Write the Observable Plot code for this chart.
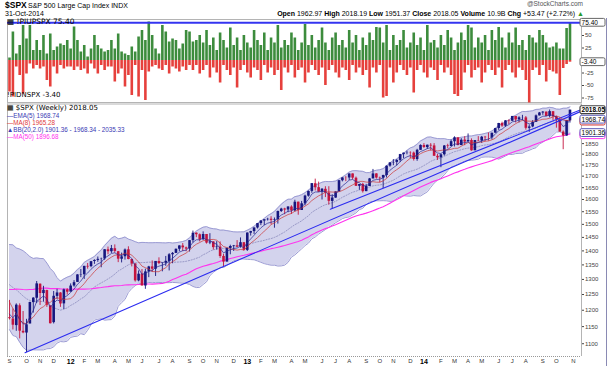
<!DOCTYPE html>
<html><head><meta charset="utf-8">
<script src="https://cdn.jsdelivr.net/npm/d3@7"></script>
<script src="https://cdn.jsdelivr.net/npm/@observablehq/plot@0.6"></script>
<style>
body{margin:0;background:#fff;}
#wrap{position:relative;width:610px;height:366px;overflow:hidden;background:#fff;font-family:"Liberation Sans",Arial,sans-serif;color:#000}
.t{position:absolute;white-space:nowrap;line-height:1}
.p{position:absolute;left:0}
</style></head><body><div id="wrap">
<div class="t" style="left:5px;top:1px;font-size:8.5px;font-weight:bold">$SPX</div>
<div class="t" style="left:28px;top:2px;font-size:7px">S&amp;P 500 Large Cap Index INDX</div>
<div class="t" style="left:5px;top:10px;font-size:7px">31-Oct-2014</div>
<div class="t" style="right:27px;top:1px;font-size:6.5px;color:#555">@StockCharts.com</div>
<div class="t" style="right:26px;top:10px;font-size:7px"><b>Open</b> 1962.97 <b>High</b> 2018.19 <b>Low</b> 1951.37 <b>Close</b> 2018.05 <b>Volume</b> 10.9B <b>Chg</b> +53.47 (+2.72%) <span style="color:#2a9a2a">&#9650;</span></div>
<div id="top" class="p" style="top:18px"></div>
<div id="main" class="p" style="top:101px"></div>
<div class="t" style="left:7px;top:18px;font-size:7.5px;font-family:'DejaVu Sans'">&#9638; !PIUPSPX 75.40</div>
<div class="t" style="left:7px;top:92px;font-size:7px;font-family:'DejaVu Sans'">!PIDNSPX -3.40</div>
<div class="t" style="left:7px;top:105px;font-size:7px;font-family:'DejaVu Sans'">&#9638; $SPX (Weekly) 2018.05</div>
<div class="t" style="left:7px;top:113px;font-size:6.3px;color:#3a3ab4">&#8212;EMA(5) 1968.74</div>
<div class="t" style="left:7px;top:120px;font-size:6.3px;color:#e03a3a">&#8212;MA(8) 1965.28</div>
<div class="t" style="left:7px;top:127px;font-size:6.3px;color:#3a3ab4">&#9650;BB(20,2.0) 1901.36 - 1968.34 - 2035.33</div>
<div class="t" style="left:7px;top:134px;font-size:6.3px;color:#ff33ee">&#8212;MA(50) 1896.68</div>
<div style="position:absolute;left:606px;top:18px;width:1px;height:348px;background:#8a8ab4"></div>
</div>
<script>
// weekly closes before the visible window (for the moving averages)
const preCloses = [1104.51,1109.55,1125.59,1148.67,1146.24,1165.15,1176.19,1183.08,1183.26,1225.85,1199.21,1199.73,1189.40,1224.71,1240.40,1243.91,1256.77,1257.64,1271.50,1293.24,1283.35,1276.34,1310.87,1329.15,1343.01,1319.88,1321.15,1304.28,1279.20,1313.80,1332.41,1328.17,1319.68,1337.38,1363.61,1340.20,1337.77,1333.27,1331.10,1300.16,1270.98,1271.50,1268.45,1339.67,1343.80,1316.14,1345.02,1292.28,1199.38,1178.81,1123.53,1176.80];

const open = [1177,1173,1153,1214,1136,1131,1158,1224,1238,1284,1253,1263,1213,1162,1244,1255,1220,1265,
1258,1278,1290,1315,1316,1345,1344,1362,1366,1370,1371,1404,1397,1408,1397,1370,1379,1404,1369,1353,1295,1318,1278,1326,1343,1335,1362,1355,1356,1362,1386,1391,1406,1418,1411,1407,1438,1466,1460,1441,1461,1429,1433,1412,1414,1380,1360,1409,1416,1418,1414,1430,
1402,1466,1472,1486,1503,1513,1518,1520,1516,1518,1551,1561,1557,1569,1553,1589,1555,1582,1614,1634,1667,1650,1631,1643,1627,1592,1606,1632,1680,1692,1692,1710,1691,1656,1664,1633,1655,1688,1710,1692,1691,1703,1745,1760,1762,1771,1798,1805,1806,1805,1775,1818,
1841,1831,1842,1839,1790,1783,1797,1839,1836,1859,1878,1841,1867,1858,1865,1816,1865,1863,1881,1878,1878,1901,1924,1949,1936,1963,1961,1985,1968,1978,1978,1925,1932,1955,1988,2003,2008,1986,2010,1983,1968,1906,1887,1962.97];
const high = [1231,1204,1220,1220,1196,1172,1225,1240,1293,1285,1277,1264,1215,1260,1267,1256,1268,1269,
1285,1296,1316,1334,1345,1355,1362,1368,1378,1374,1405,1414,1420,1422,1398,1392,1407,1415,1370,1354,1329,1334,1335,1345,1364,1362,1375,1357,1380,1390,1394,1407,1419,1427,1414,1438,1474,1467,1463,1471,1461,1464,1434,1434,1433,1388,1409,1421,1420,1438,1448,1431,
1467,1473,1486,1503,1514,1518,1524,1530,1525,1552,1564,1564,1570,1574,1597,1589,1592,1618,1636,1667,1687,1674,1646,1654,1654,1620,1632,1680,1693,1698,1710,1710,1696,1664,1669,1664,1690,1730,1711,1696,1704,1746,1760,1775,1775,1799,1805,1814,1811,1810,1823,1844,
1850,1843,1850,1850,1799,1798,1841,1847,1867,1883,1878,1874,1884,1897,1873,1865,1884,1885,1885,1902,1901,1925,1950,1956,1964,1968,1985,1985,1984,1991,1985,1942,1964,1993,2006,2011,2008,2019,2010,1986,1978,1912,1965,2018.19];
const low = [1170,1140,1136,1114,1129,1075,1158,1191,1221,1215,1226,1209,1158,1158,1234,1209,1202,1248,
1258,1274,1290,1306,1300,1335,1340,1352,1359,1340,1366,1386,1391,1392,1358,1357,1367,1368,1343,1291,1292,1278,1267,1306,1324,1310,1351,1326,1345,1329,1354,1391,1397,1398,1397,1396,1429,1449,1433,1439,1425,1423,1403,1403,1373,1343,1360,1386,1398,1412,1410,1399,
1398,1455,1461,1482,1495,1495,1513,1498,1485,1501,1547,1538,1546,1539,1549,1536,1555,1574,1610,1626,1636,1630,1598,1608,1577,1560,1605,1632,1675,1676,1681,1684,1655,1639,1627,1633,1655,1688,1687,1671,1646,1692,1740,1747,1746,1761,1780,1797,1779,1768,1767,1818,
1827,1823,1815,1790,1771,1738,1791,1825,1836,1834,1839,1840,1840,1858,1814,1816,1859,1851,1859,1862,1868,1901,1915,1930,1930,1944,1959,1952,1952,1963,1916,1905,1928,1955,1988,1991,1985,1978,1965,1926,1906,1821,1886,1951.37];
const close = [1173.97,1154.23,1216.01,1136.43,1131.42,1155.46,1224.58,1238.25,1285.09,1253.23,1263.85,1215.65,1158.67,1244.28,1255.19,1219.66,1265.33,1257.60,
1277.81,1289.09,1315.38,1316.33,1344.90,1342.64,1361.23,1365.74,1369.63,1370.87,1404.17,1397.11,1408.47,1398.08,1370.26,1378.53,1403.36,1369.10,1353.39,1295.22,1317.82,1278.04,1325.66,1342.84,1335.02,1362.16,1354.68,1356.78,1362.66,1385.97,1390.99,1405.87,1418.16,1411.13,1406.58,1437.92,1465.77,1460.15,1440.67,1460.93,1428.59,1433.19,1411.94,1414.20,1379.85,1359.88,1409.15,1416.18,1418.07,1413.58,1430.15,1402.43,
1466.47,1472.05,1485.98,1502.96,1513.17,1517.93,1519.79,1515.60,1518.20,1551.18,1560.70,1556.89,1569.19,1553.28,1588.85,1555.25,1582.24,1614.42,1633.70,1667.47,1649.60,1630.74,1643.38,1626.73,1592.43,1606.28,1631.89,1680.19,1692.09,1691.65,1709.67,1691.42,1655.83,1663.50,1632.97,1655.17,1687.99,1709.91,1691.75,1690.50,1703.20,1744.50,1759.77,1761.64,1770.61,1798.18,1804.76,1805.81,1805.09,1775.32,1818.32,1841.40,
1831.37,1842.37,1838.70,1790.29,1782.59,1797.02,1838.63,1836.25,1859.45,1878.04,1841.13,1866.52,1857.62,1865.09,1815.69,1864.85,1863.40,1881.14,1878.48,1877.86,1900.53,1923.57,1949.44,1936.16,1962.87,1960.96,1985.44,1967.57,1978.22,1978.34,1925.15,1931.59,1955.06,1988.40,2003.37,2007.71,1985.54,2010.40,1982.85,1967.90,1906.13,1886.76,1964.58,2018.05];

// !PIUPSPX / !PIDNSPX weekly values
const upPct = [5,57,13,30,70,43,70,20,40,20,50,13,53,20,27,33,30,40,23,67,40,17,30,7,23,50,30,23,17,20,40,23,53,17,13,10,27,17,47,60,40,77,50,23,13,70,57,37,43,40,23,33,60,57,37,40,50,
35,60,30,45,20,55,40,25,65,30,45,20,50,35,25,60,40,30,55,20,45,35,70,25,40,30,55,45,20,35,72,30,50,25,40,65,35,20,45,55,30,40,25,60,35,50,20,45,30,55,40,66,65,35,70,20,50,30,40,60,25,35,55,30,45,20,70,35,40,25,50,30,60,45,20,35,55,40,70,65,25,45,35,50,20,60,40,66,45,25,55,35,65,30,40,20,50,45,35,60,
50,35,25,27,35,23,23,64,75.4];
const dnPct = [-63,-73,-13,-30,-67,-27,-7,-17,-10,-17,-13,-40,-53,-13,-27,-10,-17,-13,-13,-20,-13,-20,-17,-27,-7,-17,-27,-10,-20,-13,-13,-43,-27,-17,-53,-30,-70,-10,-73,-20,-80,-23,-13,-10,-17,-20,-10,-27,-13,-17,-23,-13,-20,-10,-20,-10,-27,
-20,-10,-35,-15,-25,-45,-10,-20,-30,-15,-55,-20,-10,-25,-35,-15,-20,-40,-10,-25,-15,-30,-20,-60,-15,-25,-10,-35,-20,-15,-45,-25,-10,-20,-30,-15,-50,-20,-10,-25,-35,-15,-20,-40,-10,-25,-15,-30,-20,-55,-15,-25,-10,-75,-72,-15,-45,-25,-10,-20,-30,-15,-65,-20,-10,-25,-35,-15,-20,-40,-10,-25,-15,-30,-68,-72,-60,-25,-10,-35,-20,-15,-45,-25,-10,-20,-30,-15,-55,-20,-10,-25,-35,-15,-20,-40,-85,-20,-15,-30,
-10,-43,-20,-23,-27,-70,-16,-8,-3.4];

const monthLetters = ["J","F","M","A","M","J","J","A","S","O","N","D"];

const dates = d3.timeFriday.range(new Date(2011,8,1), new Date(2014,10,1));

const all = preCloses.concat(close);
const P = preCloses.length;
const sma = (j,n) => d3.mean(all.slice(j-n+1, j+1));
const emaArr = [];
{ let e = sma(4,5); for (let j=5;j<all.length;j++){ e = e + (all[j]-e)*2/6; emaArr[j]=e; } }

const rows = dates.map((date,i) => {
  const j = P + i;
  const mid = sma(j,20);
  const sd = Math.sqrt(d3.mean(all.slice(j-19,j+1), v => (v-mid)*(v-mid)));
  return {date, o:open[i], h:high[i], l:low[i], c:close[i], up:upPct[i], dn:dnPct[i],
    ema5:emaArr[j], ma8:sma(j,8), ma50:sma(j,50), bbMid:mid, bbUp:mid+2*sd, bbLo:mid-2*sd};
});
const last = rows[rows.length-1];

const xDom = [new Date(2011,7,28,21), new Date(2014,10,23,17)];

const monthTicks = d3.timeMonth.range(new Date(2011,8,1), new Date(2014,11,1)).map(m => {
  const d = d3.timeFriday.ceil(m);
  return {date:d, label: m.getMonth()===0 ? String(m.getFullYear()).slice(2) : monthLetters[m.getMonth()], year: m.getMonth()===0};
});

const trendA = [{date:new Date(2011,9,4), v:1074.77},{date:xDom[1], v:2013}];
const trendB = [{date:new Date(2013,5,24), v:1560},{date:xDom[1], v:2021}];

function valueBoxes(items){
  return (index, scales, values, dims) => {
    const g = d3.create("svg:g").attr("text-anchor","start");
    const x0 = scales.x(xDom[1]) - 1;
    for (const it of items){
      const y = scales.y(it.v) + (it.dy||0);
      g.append("rect").attr("x",x0).attr("y",y-3.9).attr("width",it.w||25).attr("height",7.8).attr("rx",1.5)
        .attr("fill","#fff").attr("stroke",it.stroke).attr("stroke-width",it.sw||1);
      if (it.text) g.append("text").attr("x",x0+1.6).attr("y",y).attr("dy","0.36em").attr("font-size",6.5)
        .attr("text-anchor","start").attr("font-weight",it.bold?"bold":null).attr("fill","#000").text(it.text);
    }
    return g.node();
  };
}

const fontStyle = {fontFamily:"'Liberation Sans', Arial, sans-serif", fontSize:"6px", background:"transparent", color:"#444", overflow:"visible"};

const topPlot = Plot.plot({
  width:610, height:85, marginLeft:7, marginRight:29, marginTop:1, marginBottom:1,
  style: fontStyle,
  x:{type:"time", domain:xDom, axis:null},
  y:{domain:[-84,82], axis:"right", ticks:[50,25,-25,-50,-75], tickSize:2, tickPadding:1.5, tickFormat:d=>String(d), label:null},
  marks:[
    Plot.frame({stroke:"#b4b4b4"}),
    Plot.ruleX(rows,{x:"date", y1:0, y2:"up", stroke:"#3d8c3d", strokeWidth:2.6}),
    Plot.ruleX(rows,{x:"date", y1:0, y2:"dn", stroke:"#e6403c", strokeWidth:2.6}),
    Plot.ruleY([75.4],{stroke:"#3434f0", strokeWidth:2}),
    valueBoxes([{v:75.4, text:"75.40", stroke:"#666"},{v:-3.4, text:"-3.40", stroke:"#666"}])
  ]
});
document.getElementById("top").appendChild(topPlot);

const mainPlot = Plot.plot({
  width:610, height:265, marginLeft:7, marginRight:29, marginTop:2.5, marginBottom:10,
  style: fontStyle,
  x:{type:"time", domain:xDom, axis:null},
  y:{type:"log", domain:[1064.1, 2050.6], axis:"right", ticks:d3.range(1100,1851,50), tickSize:2, tickPadding:1.5, tickFormat:d=>String(d), label:null},
  color:{type:"identity"},
  marks:[
    Plot.areaY(rows,{x:"date", y1:"bbLo", y2:"bbUp", fill:"#d3d3ed", curve:"linear"}),
    Plot.line(rows,{x:"date", y:"bbUp", stroke:"#9c9cd4", strokeWidth:1}),
    Plot.line(rows,{x:"date", y:"bbLo", stroke:"#9c9cd4", strokeWidth:1}),
    Plot.line(rows,{x:"date", y:"bbMid", stroke:"#8a8abc", strokeWidth:0.8, strokeDasharray:"1.2,1.6"}),
    Plot.line(rows,{x:"date", y:"ma50", stroke:"#ff33ee", strokeWidth:1.1}),
    Plot.ruleX(rows,{x:"date", y1:"l", y2:"h", stroke:d => d.c>=d.o ? "#16167e" : "#c4143e", strokeWidth:0.9}),
    Plot.ruleX(rows,{x:"date", y1:"o", y2:"c", stroke:d => d.c>=d.o ? "#16167e" : "#c4143e", strokeWidth:2.6}),
    Plot.line(trendA,{x:"date", y:"v", stroke:"#2c2cf0", strokeWidth:1.1}),
    Plot.line(trendB,{x:"date", y:"v", stroke:"#2c2cf0", strokeWidth:1.1}),
    Plot.line(rows,{x:"date", y:"ma8", stroke:"#cc3333", strokeWidth:0.7}),
    Plot.line(rows,{x:"date", y:"ema5", stroke:"#262690", strokeWidth:0.7}),
    Plot.ruleY([1064.1],{stroke:"#999", strokeDasharray:"1,1"}),
    Plot.ruleY([2050.6],{stroke:"#b4b4b4"}),
    Plot.ruleX([xDom[0], xDom[1]],{stroke:"#b4b4b4"}),
    Plot.text(monthTicks.filter(d=>!d.year),{x:"date", text:"label", frameAnchor:"bottom", dy:5, lineAnchor:"middle", fontSize:6, fill:"#333"}),
    Plot.text(monthTicks.filter(d=>d.year),{x:"date", text:"label", frameAnchor:"bottom", dy:5, lineAnchor:"middle", fontSize:7, fontWeight:"bold", fill:"#000"}),
    valueBoxes([
      {v:last.ma8, stroke:"#d03030", dy:1.2},
      {v:last.ema5, text:last.ema5.toFixed(2), stroke:"#5a5ab8"},
      {v:last.ma50, stroke:"#ff33ee", dy:1.2},
      {v:last.bbLo, text:last.bbLo.toFixed(2), stroke:"#5a5ab8"},
      {v:last.c, text:last.c.toFixed(2), stroke:"#444", bold:true, sw:1.2}
    ])
  ]
});
document.getElementById("main").appendChild(mainPlot);
</script>
</body></html>
